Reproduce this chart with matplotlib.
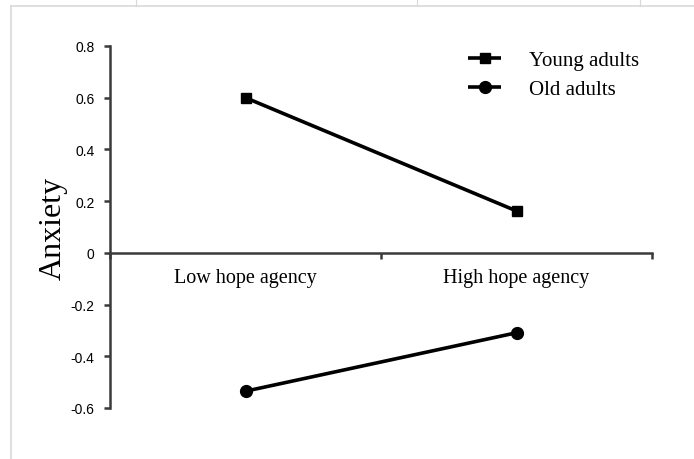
import matplotlib.pyplot as plt
from matplotlib.lines import Line2D

# Simple slopes: anxiety by hope agency level for two age groups
categories = ["Low hope agency", "High hope agency"]
young_adults = [0.60, 0.162]
old_adults = [-0.535, -0.309]
y_ticks = [-0.6, -0.4, -0.2, 0, 0.2, 0.4, 0.6, 0.8]
y_tick_labels = ["-0.6", "-0.4", "-0.2", "0", "0.2", "0.4", "0.6", "0.8"]

serif = ["Liberation Serif", "DejaVu Serif"]
narrow = ["Liberation Sans Narrow", "Liberation Sans", "DejaVu Sans"]

fig = plt.figure(figsize=(6.94, 4.60), dpi=100)
W, H = 694, 460

# light sheet frame around the chart area
frame = "#d9d9d9"
fig.add_artist(Line2D([11 / W, 1], [1 - 7 / H, 1 - 7 / H], color=frame, lw=1.2))
fig.add_artist(Line2D([11 / W, 11 / W], [0, 1 - 7 / H], color=frame, lw=1.2))
for xp in (136, 417, 640):
    fig.add_artist(Line2D([xp / W, xp / W], [1 - 7 / H, 1], color=frame, lw=0.8))

ax = fig.add_axes([110 / W, 1 - 409 / H, (652 - 110) / W, (409 - 47) / H])

x_pos = [0.5, 1.5]
ax.plot(x_pos, young_adults, color="black", lw=2.6, marker="s", ms=7.5,
        label="Young adults", solid_capstyle="butt")
ax.plot(x_pos, old_adults, color="black", lw=2.6, marker="o", ms=8.5,
        label="Old adults", solid_capstyle="butt")

ax.set_xlim(0, 2)
ax.set_ylim(-0.6, 0.8)

axis_col = "#3a3a3a"
for s in ("top", "right"):
    ax.spines[s].set_visible(False)
ax.spines["bottom"].set_position(("data", 0))
ax.spines["left"].set_color(axis_col)
ax.spines["bottom"].set_color(axis_col)
ax.spines["left"].set_linewidth(1.8)
ax.spines["bottom"].set_linewidth(1.8)

ax.set_yticks(y_ticks, y_tick_labels)
ax.tick_params(axis="y", direction="out", length=4, width=1.8, color=axis_col,
               pad=7, labelsize=10)
for lbl in ax.get_yticklabels():
    lbl.set_family(narrow)

# category boundaries as major ticks, category names as minor ticks
ax.set_xticks([0, 1, 2], ["", "", ""])
ax.tick_params(axis="x", which="major", direction="out", length=4, width=1.8,
               color=axis_col)
ax.set_xticks(x_pos, categories, minor=True)
ax.tick_params(axis="x", which="minor", length=0, pad=11, labelsize=14.5)
for lbl in ax.get_xticklabels(minor=True):
    lbl.set_family(serif)

ax.set_ylabel("Anxiety", family=serif, fontsize=23, labelpad=2)

leg = ax.legend(loc="upper right", bbox_to_anchor=(1.01, 1.04), frameon=False,
                prop={"family": serif, "size": 15}, handlelength=1.6,
                handletextpad=1.3, labelspacing=0.45)

fig.savefig("out.png", dpi=100)
